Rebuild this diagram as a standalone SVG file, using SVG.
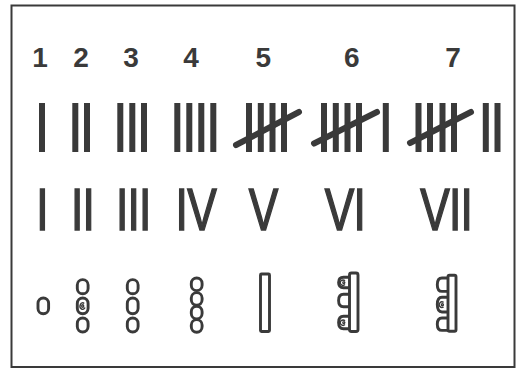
<svg xmlns="http://www.w3.org/2000/svg" width="519" height="370" viewBox="0 0 519 370">
<style>
.num{font-family:"Liberation Sans",Arial,sans-serif;font-weight:bold;font-size:28px;fill:#3a3a3a;text-anchor:middle}
.rom{font-family:"Liberation Sans",Arial,sans-serif;font-weight:normal;font-size:59px;fill:#3a3a3a;stroke:#3a3a3a;stroke-width:1.6;letter-spacing:-1px;text-anchor:middle}
.bar{fill:#3a3a3a}
.slash{stroke:#3a3a3a;stroke-width:6;stroke-linecap:round;fill:none}
.k{fill:#fff;stroke:#3a3a3a;stroke-width:2.9}
.sp{fill:none;stroke:#3a3a3a;stroke-width:1.4}
</style>
<rect x="11.5" y="5.5" width="503" height="361.5" fill="#fff" stroke="#3a3a3a" stroke-width="2"/>
<g id="n1">
<text class="num" x="40" y="67">1</text>
<rect class="bar" x="39" y="103" width="6" height="49"/>
<text class="rom" transform="scale(0.75,1)" x="56" y="230">I</text>
<rect class="k" x="38" y="298" width="10.6" height="15.8" rx="5.3"/>
</g>
<g id="n2">
<text class="num" x="81" y="67">2</text>
<rect class="bar" x="72.3" y="103" width="6" height="49"/>
<rect class="bar" x="84" y="103" width="6" height="49"/>
<text class="rom" transform="scale(0.75,1)" x="110" y="230">II</text>
<rect class="k" x="77.3" y="279.6" width="10.8" height="14.2" rx="5.4"/>
<rect class="k" x="77.3" y="298" width="10.8" height="15.7" rx="5.4"/>
<path class="sp" d="M85,307.5 A2.6,3.3 0 1 1 84.2,303.4 M82.7,306 m-1,0 a1,1.3 0 1 0 2,0 a1,1.3 0 1 0 -2,0"/>
<rect class="k" x="77.3" y="318" width="10.8" height="14" rx="5.4"/>
</g>
<g id="n3">
<text class="num" x="131" y="67">3</text>
<rect class="bar" x="117.3" y="103" width="6" height="49"/>
<rect class="bar" x="129.3" y="103" width="6" height="49"/>
<rect class="bar" x="141" y="103" width="6" height="49"/>
<text class="rom" transform="scale(0.75,1)" x="177.7" y="230">III</text>
<rect class="k" x="127.3" y="279.6" width="10.8" height="14.2" rx="5.4"/>
<rect class="k" x="127.3" y="298" width="10.8" height="15.7" rx="5.4"/>
<rect class="k" x="127.3" y="318" width="10.8" height="14" rx="5.4"/>
</g>
<g id="n4">
<text class="num" x="191" y="67">4</text>
<rect class="bar" x="174.3" y="103" width="6" height="49"/>
<rect class="bar" x="186.3" y="103" width="6" height="49"/>
<rect class="bar" x="198.3" y="103" width="6" height="49"/>
<rect class="bar" x="210.3" y="103" width="6" height="49"/>
<text class="rom" transform="scale(0.75,1)" x="261" y="230">IV</text>
<rect class="k" x="191.3" y="278" width="10.8" height="12.6" rx="5.4"/>
<rect class="k" x="191.3" y="292.6" width="10.8" height="12.6" rx="5.4"/>
<rect class="k" x="191.3" y="306.3" width="10.8" height="12.6" rx="5.4"/>
<rect class="k" x="191.3" y="319.6" width="10.8" height="12.6" rx="5.4"/>
</g>
<g id="n5">
<text class="num" x="263.3" y="67">5</text>
<rect class="bar" x="246" y="103" width="6" height="49"/>
<rect class="bar" x="257.8" y="103" width="6" height="49"/>
<rect class="bar" x="269.5" y="103" width="6" height="49"/>
<rect class="bar" x="281" y="103" width="6" height="49"/>
<line class="slash" x1="236" y1="145" x2="299" y2="112"/>
<text class="rom" transform="scale(0.75,1)" x="351" y="230">V</text>
<rect class="k" x="260.5" y="274" width="9" height="57.5" rx="1"/>
</g>
<g id="n6">
<text class="num" x="351.7" y="67">6</text>
<rect class="bar" x="321" y="103" width="6" height="49"/>
<rect class="bar" x="332.8" y="103" width="6" height="49"/>
<rect class="bar" x="344.5" y="103" width="6" height="49"/>
<rect class="bar" x="356" y="103" width="6" height="49"/>
<rect class="bar" x="382.8" y="103" width="6" height="49"/>
<line class="slash" x1="314" y1="143.5" x2="377" y2="112"/>
<text class="rom" transform="scale(0.75,1)" x="460" y="230">VI</text>
<path class="k" d="M349.5,277.3 H343.5 Q338.6,277.3 338.6,282.5 Q338.6,287.7 343.5,287.7 H349.5"/>
<path class="sp" d="M345,284.5 A2.8,2.6 0 1 1 345,280.8 M343.8,282.6 m-1,0 a1,1 0 1 0 2,0 a1,1 0 1 0 -2,0"/>
<path class="k" d="M349.5,294.3 H343.5 Q338.6,294.3 338.6,300.5 Q338.6,306.7 343.5,306.7 H349.5"/>
<path class="k" d="M349.5,316.3 H343.5 Q338.6,316.3 338.6,322.5 Q338.6,328.7 343.5,328.7 H349.5"/>
<path class="sp" d="M345,324.5 A2.8,2.6 0 1 1 345,320.8 M343.8,322.6 m-1,0 a1,1 0 1 0 2,0 a1,1 0 1 0 -2,0"/>
<rect class="k" x="349.5" y="273" width="8.5" height="58.5" rx="2"/>
</g>
<g id="n7">
<text class="num" x="453" y="67">7</text>
<rect class="bar" x="415.5" y="103" width="6" height="49"/>
<rect class="bar" x="427" y="103" width="6" height="49"/>
<rect class="bar" x="439.5" y="103" width="6" height="49"/>
<rect class="bar" x="451" y="103" width="6" height="49"/>
<rect class="bar" x="482.8" y="103" width="6" height="49"/>
<rect class="bar" x="494.5" y="103" width="6" height="49"/>
<line class="slash" x1="410" y1="143" x2="471" y2="112"/>
<text class="rom" transform="scale(0.75,1)" x="595" y="230">VII</text>
<path class="k" d="M448,278 H442 Q437.3,278 437.3,284.7 Q437.3,291.4 442,291.4 H448"/>
<path class="k" d="M448,297.3 H442 Q437.3,297.3 437.3,304.6 Q437.3,312 442,312 H448"/>
<path class="sp" d="M443.6,307 A2.8,2.8 0 1 1 443.6,302.4 M442.4,304.7 m-1,0 a1,1.1 0 1 0 2,0 a1,1.1 0 1 0 -2,0"/>
<path class="k" d="M448,318 H442 Q437.3,318 437.3,324.2 Q437.3,330.4 442,330.4 H448"/>
<rect class="k" x="448" y="275.3" width="8" height="56" rx="1.5"/>
</g>
</svg>
